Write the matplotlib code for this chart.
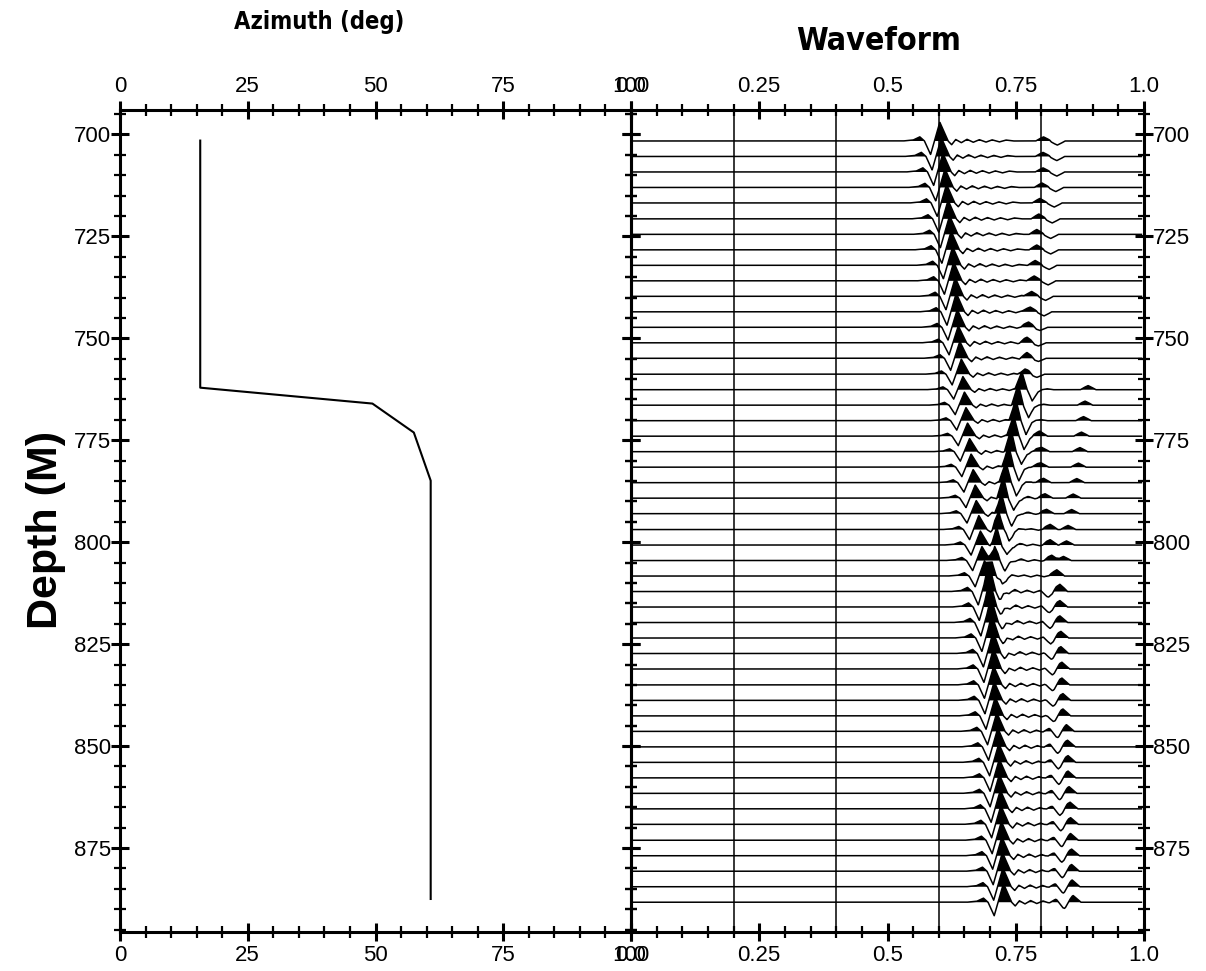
import numpy as np
import matplotlib
matplotlib.use("Agg")
import matplotlib.pyplot as plt
from matplotlib.ticker import MultipleLocator
from matplotlib import font_manager as fm

plt.rcParams['font.family'] = ['Liberation Sans', 'DejaVu Sans']

# ---------------- data ----------------
# Azimuth profile (left panel)
az_depth = [701.5, 762.1, 766.0, 773.1, 784.9, 887.5]
az_value = [15.7, 15.7, 49.4, 57.5, 60.8, 60.8]

# Trace depths (m)
trace_depth = [701.6, 705.4, 709.2, 713.0, 716.8, 720.7, 724.5, 728.3, 732.1, 735.9,
               739.7, 743.5, 747.3, 751.1, 754.9, 758.8, 762.6, 766.4, 770.2, 774.0,
               777.8, 781.6, 785.4, 789.2, 793.0, 796.9, 800.7, 804.5, 808.3, 812.1,
               815.9, 819.7, 823.5, 827.3, 831.1, 835.0, 838.8, 842.6, 846.4, 850.2,
               854.0, 857.8, 861.6, 865.4, 869.2, 873.1, 876.9, 880.7, 884.5, 888.3]

# Direct (fast) arrival: peak time and amplitude
t_fast = [0.602, 0.605, 0.608, 0.612, 0.615, 0.618, 0.621, 0.624, 0.627, 0.629,
          0.632, 0.634, 0.636, 0.638, 0.641, 0.644, 0.647, 0.650, 0.653, 0.656,
          0.660, 0.663, 0.667, 0.671, 0.673, 0.678, 0.681, 0.684, 0.689, 0.695,
          0.697, 0.700, 0.702, 0.705, 0.706, 0.707, 0.708, 0.710, 0.713, 0.715,
          0.717, 0.718, 0.718, 0.720, 0.721, 0.722, 0.723, 0.724, 0.725, 0.726]
a_fast = [1.0, 1.0, 1.0, 1.0, 1.0, 1.0, 1.0, 1.0, 1.0, 1.0,
          1.0, 1.0, 0.95, 0.9, 0.9, 0.8, 0.7, 0.7, 0.7, 0.7,
          0.7, 0.7, 0.7, 0.7, 0.7, 0.75, 0.75, 0.75, 0.8, 1.0,
          1.0, 1.0, 1.0, 1.0, 1.0, 1.0, 1.0, 1.0, 1.0, 1.0,
          1.0, 1.0, 1.0, 1.0, 1.0, 1.0, 1.0, 1.0, 1.0, 1.0]

# Slow (split) arrival
t_slow = [None] * 16 + [0.762, 0.755, 0.750, 0.746, 0.741, 0.736, 0.731, 0.726, 0.722,
                        0.717, 0.713, 0.709, 0.704, 0.701, 0.703, 0.706, 0.708, 0.711,
                        0.712] + [None] * 15
a_slow = [0.0] * 16 + [1.0, 1.1, 1.15, 1.15, 1.15, 1.15, 1.15, 1.1, 1.05,
                       1.0, 0.9, 0.85, 0.7, 0.5, 0.4, 0.3, 0.22, 0.16,
                       0.1] + [0.0] * 15

# Later small positive bump
t_bump = [0.804, 0.803, 0.803, 0.801, 0.797, 0.795, 0.791, 0.791, 0.788, 0.786,
          0.781, 0.778, 0.775, 0.772, 0.772, 0.768, 0.891, 0.885, 0.882, 0.878,
          0.875, 0.872, 0.869, 0.862, 0.859, 0.817, 0.817, 0.820, 0.830, 0.836,
          0.836, 0.836, 0.838, 0.838, 0.840, 0.840, 0.842, 0.842, 0.849, 0.851,
          0.852, 0.852, 0.854, 0.856, 0.857, 0.857, 0.859, 0.859, 0.860, 0.862]
a_bump = [0.22, 0.22, 0.22, 0.24, 0.24, 0.26, 0.26, 0.26, 0.26, 0.26,
          0.26, 0.26, 0.27, 0.27, 0.27, 0.27, 0.22, 0.22, 0.22, 0.22,
          0.22, 0.22, 0.22, 0.22, 0.22, 0.27, 0.27, 0.27, 0.33, 0.38,
          0.33, 0.33, 0.33, 0.33, 0.33, 0.33, 0.33, 0.33, 0.33, 0.33,
          0.33, 0.33, 0.33, 0.33, 0.33, 0.33, 0.33, 0.33, 0.33, 0.33]

# Later small dip
t_dip = [0.831, 0.830, 0.830, 0.828, 0.825, 0.821, 0.818, 0.818, 0.815, 0.813,
         0.808, 0.805, 0.797, 0.794, 0.794, 0.791] + [None] * 13 + \
        [0.814, 0.816, 0.817, 0.818, 0.819, 0.821, 0.821, 0.822, 0.823,
         0.832, 0.832, 0.833, 0.834, 0.836, 0.836, 0.838, 0.840, 0.840, 0.841, 0.843, 0.845]
a_dip = [-0.22] * 12 + [-0.17] * 4 + [0.0] * 13 + [-0.27] * 9 + [-0.30] * 12

# Extra small bump
t_extra = [None] * 19 + [0.797, 0.801, 0.799, 0.804, 0.807, 0.810, 0.852, 0.849, 0.843] + \
          [None] * 10 + [0.814, 0.814, 0.815, 0.816, 0.818, 0.818, 0.820, 0.822, 0.822,
                         0.823, 0.825, 0.827]
a_extra = [0.0] * 19 + [0.22] * 6 + [0.22] * 3 + [0.0] * 10 + [0.1] * 12

# Wavelet shapes (offset in x units, normalised amplitude)
w_fast_off = [-0.072, -0.052, -0.039, -0.030, -0.018, 0.0, 0.016, 0.023, 0.031,
              0.042, 0.053, 0.065, 0.077, 0.090, 0.102, 0.116, 0.129, 0.143]
w_fast_val = [0.0, 0.05, 0.22, 0.0, -0.72, 1.0, 0.0, -0.2, 0.08,
              -0.09, 0.09, -0.07, 0.07, -0.06, 0.06, -0.05, 0.05, 0.0]
w_slow_off = [-0.022, -0.013, 0.0, 0.010, 0.020, 0.031, 0.039, 0.049, 0.061]
w_slow_val = [0.0, 0.03, 1.0, 0.0, -0.62, -0.13, 0.0, 0.05, 0.0]
w_bump_off = [-0.015, -0.0075, 0.0, 0.0075, 0.015]
w_bump_val = [0.0, 0.55, 1.0, 0.55, 0.0]

GAIN = 4.6  # metres per unit amplitude

# ---------------- figure ----------------
W, H = 1206, 971
fig = plt.figure(figsize=(W / 100, H / 100), dpi=100)
TOP, BOT = 110, 932
bot = 1 - BOT / H
hgt = (BOT - TOP) / H
axL = fig.add_axes([120 / W, bot, 511 / W, hgt])
axR = fig.add_axes([631 / W, bot, 513 / W, hgt])

ylim = (895.6, 694.0)

# Left panel
axL.plot(az_value, az_depth, color='black', lw=1.5)
axL.set_xlim(0, 100)
axL.set_ylim(*ylim)
axL.set_xticks([0, 25, 50, 75, 100], ['0', '25', '50', '75', '100'])
axL.xaxis.set_minor_locator(MultipleLocator(5))
axL.set_yticks([700, 725, 750, 775, 800, 825, 850, 875])
axL.yaxis.set_minor_locator(MultipleLocator(5))
axL.tick_params(axis='x', which='both', top=True, labeltop=True, bottom=True, labelbottom=True)
axL.tick_params(axis='y', which='both', left=True, labelleft=True, right=True, labelright=False)

# Right panel
x = np.linspace(0, 0.995, 3000)
for d_idx, d in enumerate(trace_depth):
    w = a_fast[d_idx] * np.interp(x - t_fast[d_idx], w_fast_off, w_fast_val, left=0, right=0)
    if t_slow[d_idx] is not None:
        w += a_slow[d_idx] * np.interp(x - t_slow[d_idx], w_slow_off, w_slow_val, left=0, right=0)
    w += a_bump[d_idx] * np.interp(x - t_bump[d_idx], w_bump_off, w_bump_val, left=0, right=0)
    if t_dip[d_idx] is not None:
        w += a_dip[d_idx] * np.interp(x - t_dip[d_idx], w_bump_off, w_bump_val, left=0, right=0)
    if t_extra[d_idx] is not None:
        w += a_extra[d_idx] * np.interp(x - t_extra[d_idx], w_bump_off, w_bump_val, left=0, right=0)
    yv = d - GAIN * w
    axR.fill_between(x, d, yv, where=w > 0, color='black', lw=0, interpolate=True, zorder=3)
    axR.plot(x, yv, color='black', lw=1.1, zorder=4)

for g in [0.2, 0.4, 0.6, 0.8]:
    axR.axvline(g, color='black', lw=1.1, zorder=1)

axR.set_xlim(0, 1.0)
axR.set_ylim(*ylim)
axR.set_xticks([0, 0.25, 0.5, 0.75, 1.0], ['0.0', '0.25', '0.5', '0.75', '1.0'])
axR.xaxis.set_minor_locator(MultipleLocator(0.05))
axR.set_yticks([700, 725, 750, 775, 800, 825, 850, 875])
axR.yaxis.set_minor_locator(MultipleLocator(5))
axR.tick_params(axis='x', which='both', top=True, labeltop=True, bottom=True, labelbottom=True)
axR.tick_params(axis='y', which='both', left=True, labelleft=False, right=True, labelright=True)

for ax in (axL, axR):
    for s in ax.spines.values():
        s.set_linewidth(2.2)
    ax.tick_params(which='major', direction='inout', length=13, width=2.2, labelsize=16)
    ax.tick_params(which='minor', direction='inout', length=8, width=1.6)
    ax.tick_params(axis='x', which='major', pad=3)
    ax.tick_params(axis='y', which='major', pad=0)
    ax.patch.set_alpha(0)

# Condensed bold face for the titles, if one is installed
cond_path = None
prefs = ['LiberationSansNarrow-Bold', 'DejaVuSansCondensed-Bold', 'RobotoCondensed-Bold',
         'OpenSans_Condensed-Bold', 'OpenSansCondensed-Bold', 'NotoSans-CondensedBold',
         'Roboto_Condensed-Bold']
files = [f.fname for f in fm.fontManager.ttflist]
for p in prefs:
    for fn in files:
        if p.lower() in fn.lower().replace(' ', ''):
            cond_path = fn
            break
    if cond_path:
        break

if cond_path:
    fp_az = fm.FontProperties(fname=cond_path, size=17)
    fp_wf = fm.FontProperties(fname=cond_path, size=23)
else:
    fp_az = fm.FontProperties(family='Liberation Sans', weight='bold', size=17)
    fp_wf = fm.FontProperties(family='Liberation Sans', weight='bold', size=23)

fig.text(319 / W, 1 - 22 / H, 'Azimuth (deg)', ha='center', va='center', fontproperties=fp_az)
fig.text(879 / W, 1 - 42 / H, 'Waveform', ha='center', va='center', fontproperties=fp_wf)
fig.text(46 / W, 1 - 530 / H, 'Depth (M)', ha='center', va='center', rotation=90,
         fontsize=31, fontweight='bold')

fig.savefig('out.png', dpi=100, facecolor='white')
